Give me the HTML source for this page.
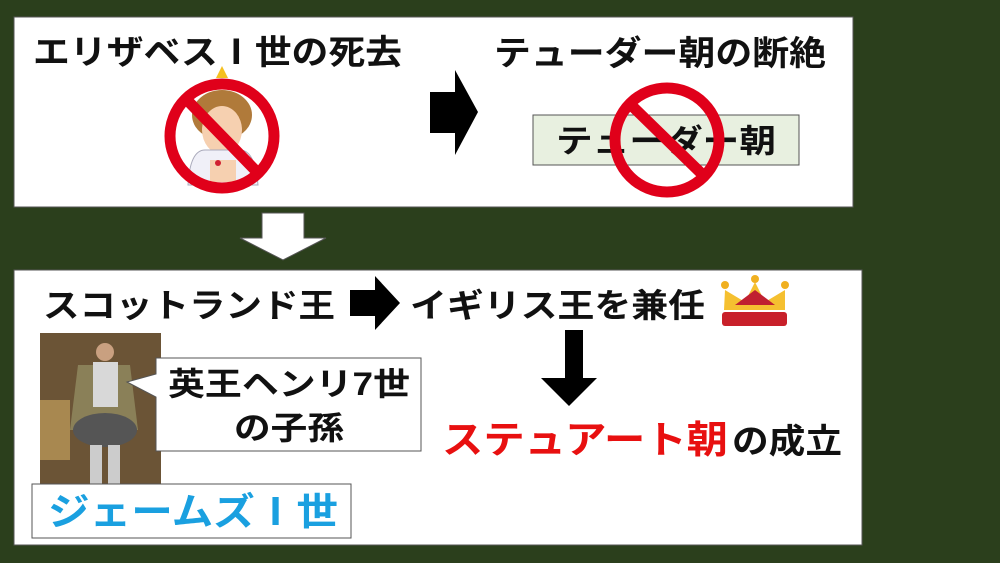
<!DOCTYPE html>
<html><head><meta charset="utf-8"><style>
body{margin:0;width:1000px;height:563px;overflow:hidden;background:#2b3f1c}
svg{display:block}
text{font-family:"Liberation Sans","Noto Sans CJK JP",sans-serif;font-weight:bold}
</style></head><body>
<svg width="1000" height="563" viewBox="0 0 1000 563">
<rect x="0" y="0" width="1000" height="563" fill="#2b3f1c"/>
<rect x="14" y="17" width="839" height="190" fill="#fff" stroke="#555" stroke-width="1"/>
<rect x="14" y="270" width="848" height="275" fill="#fff" stroke="#555" stroke-width="1"/>
<text x="33" y="64" font-size="34" fill="#111" textLength="369" lengthAdjust="spacingAndGlyphs">エリザベスⅠ世の死去</text>
<text x="494" y="65" font-size="34" fill="#111" textLength="332" lengthAdjust="spacingAndGlyphs">テューダー朝の断絶</text>
<!-- Elizabeth -->
<polygon points="216,78 222,66 228,78" fill="#f5c020"/>
<ellipse cx="222" cy="115" rx="30" ry="25" fill="#b07a3a"/>
<ellipse cx="222" cy="130" rx="20" ry="24" fill="#f6d0b0"/>
<path d="M188,185 Q190,150 205,150 L240,150 Q255,150 258,185 Z" fill="#f0f0f8" stroke="#aab" stroke-width="1"/>
<rect x="210" y="160" width="26" height="22" fill="#f6d0b0"/>
<circle cx="218" cy="163" r="3" fill="#d02030"/>
<circle cx="222" cy="136" r="52" fill="none" stroke="#e0001a" stroke-width="11"/>
<line x1="187" y1="100" x2="257" y2="172" stroke="#e0001a" stroke-width="11"/>
<!-- right arrow top -->
<polygon points="430,92 455,92 455,70 478,112 455,155 455,133 430,133" fill="#000"/>
<!-- tudor box -->
<rect x="533" y="115" width="266" height="50" fill="#e8f0e0" stroke="#555" stroke-width="1"/>
<text x="556" y="152" font-size="32" fill="#111" textLength="220" lengthAdjust="spacingAndGlyphs">テューダー朝</text>
<circle cx="667" cy="140" r="52" fill="none" stroke="#e0001a" stroke-width="11"/>
<line x1="629" y1="103" x2="705" y2="177" stroke="#e0001a" stroke-width="11"/>
<!-- white down arrow -->
<polygon points="262,213 304,213 304,238 326,238 283,260 240,238 262,238" fill="#fff" stroke="#555" stroke-width="1"/>
<!-- bottom -->
<text x="43" y="317" font-size="33" fill="#111" textLength="292" lengthAdjust="spacingAndGlyphs">スコットランド王</text>
<polygon points="350,290 375,290 375,276 400,303 375,330 375,316 350,316" fill="#000"/>
<text x="410" y="317" font-size="33" fill="#111" textLength="295" lengthAdjust="spacingAndGlyphs">イギリス王を兼任</text>
<!-- crown -->
<polygon points="724,310 725,290 745,302 755,282 765,302 785,290 785,310" fill="#f5c030"/>
<polygon points="735,305 755,290 775,305" fill="#c02030"/>
<rect x="722" y="312" width="65" height="14" rx="3" fill="#c8202a"/>
<circle cx="725" cy="285" r="4" fill="#f0b020"/><circle cx="755" cy="279" r="4" fill="#f0b020"/><circle cx="785" cy="285" r="4" fill="#f0b020"/>
<!-- portrait -->
<rect x="40" y="333" width="121" height="151" fill="#6b5436"/>
<rect x="40" y="400" width="30" height="60" fill="#a88850"/>
<circle cx="105" cy="352" r="9" fill="#c9a080"/>
<path d="M78,365 L130,365 L138,430 L70,430 Z" fill="#8a8058"/>
<rect x="93" y="362" width="25" height="45" fill="#d8d8d8"/>
<ellipse cx="105" cy="430" rx="32" ry="17" fill="#555"/>
<rect x="90" y="445" width="12" height="39" fill="#ccc"/><rect x="108" y="445" width="12" height="39" fill="#ccc"/>
<!-- speech -->
<polygon points="156,358 421,358 421,451 156,451 156,397 127,382 156,374" fill="#fff" stroke="#555" stroke-width="1"/>
<text x="168" y="395" font-size="32" fill="#111" textLength="242" lengthAdjust="spacingAndGlyphs">英王ヘンリ7世</text>
<text x="234" y="439" font-size="32" fill="#111" textLength="110" lengthAdjust="spacingAndGlyphs">の子孫</text>
<!-- james -->
<rect x="32" y="484" width="319" height="54" fill="#fff" stroke="#555" stroke-width="1"/>
<text x="48" y="525" font-size="38" fill="#1aa0e0" textLength="290" lengthAdjust="spacingAndGlyphs">ジェームズⅠ世</text>
<!-- down arrow -->
<polygon points="565,330 583,330 583,378 597,378 569,406 541,378 565,378" fill="#000"/>
<text x="442" y="453" font-size="38" fill="#e81010" textLength="286" lengthAdjust="spacingAndGlyphs">ステュアート朝</text>
<text x="732" y="453" font-size="34" fill="#111" textLength="110" lengthAdjust="spacingAndGlyphs">の成立</text>
</svg>
</body></html>
